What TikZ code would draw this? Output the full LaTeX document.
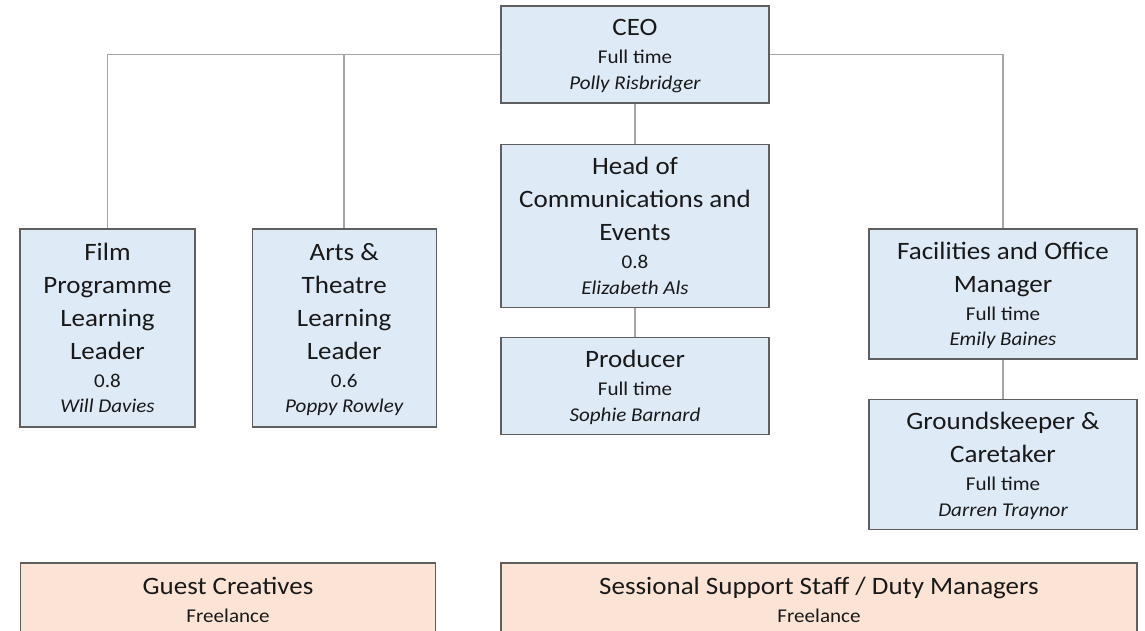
\documentclass[tikz,border=0pt]{standalone}
\usepackage{fontspec}
\setmainfont{Carlito}[FakeStretch=1.08]
\usepackage{xcolor}
\usepackage{tikz}
\usetikzlibrary{positioning}
\definecolor{StaffBlue}{HTML}{DEEAF6}
\definecolor{FreePeach}{HTML}{FBE4D6}
\definecolor{BoxLine}{HTML}{5F5F5F}
\definecolor{LinkGrey}{HTML}{A5A5A5}
\newcommand{\hrs}[1]{{\fontsize{19.5}{24}\selectfont #1}}
\newcommand{\who}[1]{{\fontsize{19.5}{24}\selectfont\itshape\raisebox{0pt}[\height][0pt]{#1}}}
\tikzset{
  role box/.style={draw=BoxLine, line width=1.2pt, fill=StaffBlue, align=center,
                   inner sep=0pt, text=black!90, font=\fontsize{25}{33}\selectfont},
  free box/.style={role box, fill=FreePeach},
  link/.style={draw=LinkGrey, line width=1.5pt},
}
\begin{document}
\begin{tikzpicture}[x=1pt, y=-1pt]
  \useasboundingbox (0,0) rectangle (1145,630);
  \node[role box, minimum width=268pt, minimum height=97pt] (ceo) at (635,54.5)
    {CEO\\[-5pt]\hrs{Full time}\\[-7.5pt]\who{Polly Risbridger}};
  \node[role box, minimum width=268pt, minimum height=163pt, below=40pt of ceo] (head)
    {Head of\\Communications and\\Events\\[-5pt]\hrs{0.8}\\[-7.5pt]\who{Elizabeth Als}};
  \node[role box, minimum width=268pt, minimum height=97pt, below=29pt of head] (prod)
    {Producer\\[-5pt]\hrs{Full time}\\[-7.5pt]\who{Sophie Barnard}};
  \node[role box, minimum width=175pt, minimum height=198pt] (film) at (107.5,328)
    {Film\\Programme\\Learning\\Leader\\[-5pt]\hrs{0.8}\\[-7.5pt]\who{Will Davies}};
  \node[role box, minimum width=184pt, minimum height=198pt, right=56pt of film] (arts)
    {Arts \&\\Theatre\\Learning\\Leader\\[-5pt]\hrs{0.6}\\[-7.5pt]\who{Poppy Rowley}};
  \node[role box, minimum width=268pt, minimum height=130pt] (fac) at (1003,294)
    {Facilities and Office\\Manager\\[-5pt]\hrs{Full time}\\[-7.5pt]\who{Emily Baines}};
  \node[role box, minimum width=268pt, minimum height=130pt, below=39pt of fac] (grnd)
    {Groundskeeper \&\\Caretaker\\[-5pt]\hrs{Full time}\\[-7.5pt]\who{Darren Traynor}};
  \node[free box, minimum width=415pt, minimum height=74pt] (guest) at (228,600)
    {Guest Creatives\\[-5pt]\hrs{Freelance}};
  \node[free box, minimum width=636pt, minimum height=74pt] (sess) at (819,600)
    {Sessional Support Staff / Duty Managers\\[-5pt]\hrs{Freelance}};
  \draw[link] (film.north) |- (ceo.west);
  \draw[link] (arts.north) -- (arts.north |- ceo.west);
  \draw[link] (fac.north) |- (ceo.east);
  \draw[link] (ceo) -- (head);
  \draw[link] (head) -- (prod);
  \draw[link] (fac) -- (grnd);
\end{tikzpicture}
\end{document}
